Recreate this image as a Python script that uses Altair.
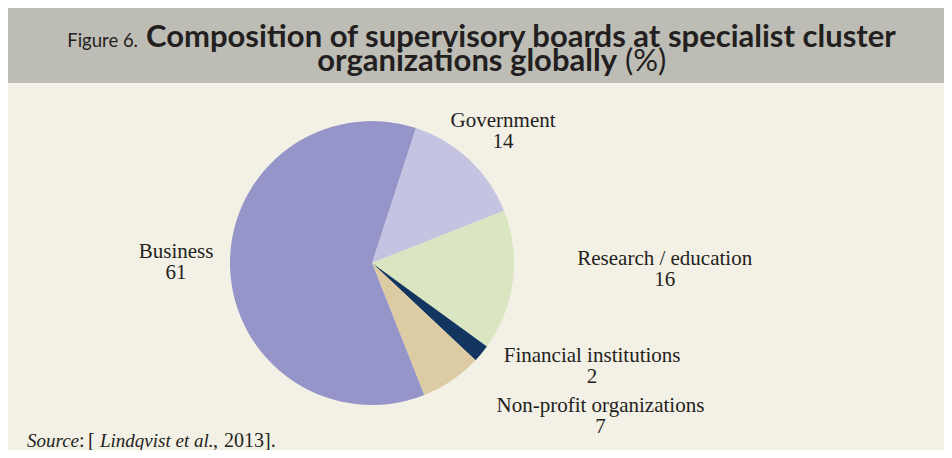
import math
import altair as alt
import pandas as pd

categories = ["Government", "Research / education", "Financial institutions",
              "Non-profit organizations", "Business"]
values = [14, 16, 2, 7, 61]
order = [1, 2, 3, 4, 5]
colors = ["#c4c3e2", "#dae5c1", "#133660", "#dccba3", "#9695c9"]

df = pd.DataFrame({"cat": categories, "value": values, "order": order})

START = math.radians(18)
theta_scale = alt.Scale(domain=[0, 100], range=[START, START + 2 * math.pi])

CX, CY = 364, 255
BG = "#f3f0e5"
BAND = "#bdbdb5"
INK = "#231f20"
SERIF = "Liberation Serif"
SANS = "Lato"

base = alt.Chart(df).transform_window(
    end="sum(value)", sort=[alt.SortField("order")], frame=[None, 0]
).transform_calculate(
    start="datum.end - datum.value",
    mid="datum.end - datum.value / 2",
    label="datum.cat + '\\n' + datum.value",
)

pie = base.mark_arc(radius=142, stroke=None).encode(
    theta=alt.Theta("start:Q", scale=theta_scale),
    theta2="end:Q",
    color=alt.Color("cat:N", scale=alt.Scale(domain=categories, range=colors), legend=None),
    x=alt.value(CX),
    y=alt.value(CY),
)

label_cfg = {
    "Government": dict(radius=190, dx=1, dy=3),
    "Research / education": dict(radius=290, dx=5, dy=-34),
    "Financial institutions": dict(radius=200, dx=66, dy=-28),
    "Non-profit organizations": dict(radius=200, dx=116, dy=-16),
    "Business": dict(radius=196, dx=0, dy=-11),
}

labels = []
for cat in categories:
    cfg = label_cfg[cat]
    labels.append(
        base.transform_filter(alt.datum.cat == cat).mark_text(
            font=SERIF, fontSize=21, color=INK, align="center", baseline="alphabetic",
            lineBreak="\n", lineHeight=20.5, **cfg
        ).encode(
            theta=alt.Theta("mid:Q", scale=theta_scale),
            text="label:N",
            x=alt.value(CX),
            y=alt.value(CY),
        )
    )

one = alt.Data(values=[{"k": 1}])

band = alt.Chart(one).mark_rect(color=BAND).encode(
    x=alt.value(0), x2=alt.value(936), y=alt.value(0), y2=alt.value(75)
)

def txt(s, x, y, font, size, weight="normal", style="normal", align="left"):
    return alt.Chart(one).mark_text(
        text=s, font=font, fontSize=size, fontWeight=weight, fontStyle=style,
        color=INK, align=align, baseline="alphabetic"
    ).encode(x=alt.value(x), y=alt.value(y))

title_parts = [
    txt("Figure 6.", 130, 39, SANS, 18.5, align="right"),
    txt("Composition of supervisory boards at specialist cluster", 138, 39, SANS, 31, weight="bold"),
    txt("organizations globally", 609, 63, SANS, 31, weight="bold", align="right"),
    txt("(%)", 617, 63, SANS, 31),
]

source_parts = [
    txt("Source", 19, 439, SERIF, 19, style="italic"),
    txt(":", 71, 439, SERIF, 20),
    txt("[", 80, 439, SERIF, 20),
    txt("Lindqvist et al.", 92, 439, SERIF, 19, style="italic"),
    txt(",", 205, 439, SERIF, 20),
    txt("2013].", 216, 439, SERIF, 20),
]

chart = alt.layer(band, pie, *labels, *title_parts, *source_parts).properties(
    width=936, height=442, background=BG, padding=0,
    autosize=alt.AutoSizeParams(type="none"),
).configure_view(stroke=None)

chart.save("out.html", embed_options={"renderer": "svg", "actions": False})
